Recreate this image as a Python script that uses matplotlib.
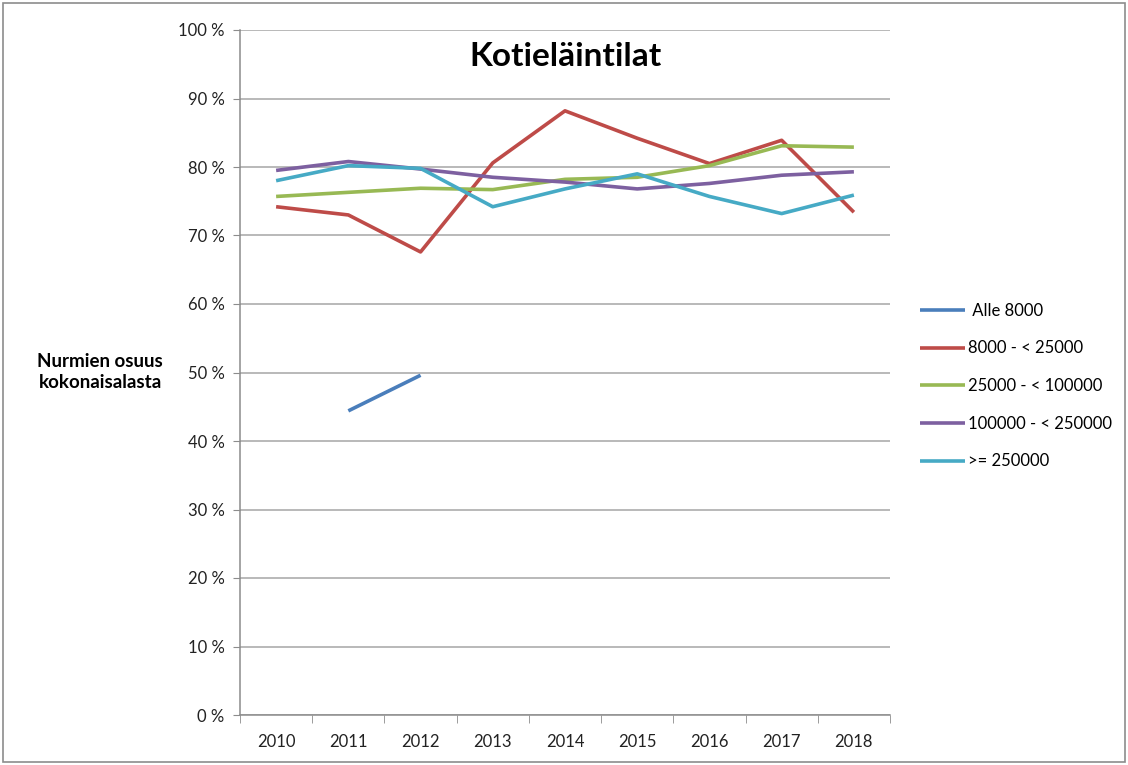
import matplotlib.pyplot as plt
import numpy as np
from matplotlib.patches import Rectangle

plt.rcParams['font.family'] = ['Lato', 'DejaVu Sans']

vuodet = ['2010', '2011', '2012', '2013', '2014', '2015', '2016', '2017', '2018']
sarjat = [' Alle 8000', '8000 - < 25000', '25000 - < 100000', '100000 - < 250000', '>= 250000']

alle_8000 = [np.nan, 44.4, 49.6, np.nan, np.nan, np.nan, np.nan, np.nan, np.nan]
v8000_25000 = [74.2, 73.0, 67.6, 80.6, 88.2, 84.2, 80.5, 83.9, 73.4]
v25000_100000 = [75.7, 76.3, 76.9, 76.7, 78.2, 78.5, 80.2, 83.1, 82.9]
v100000_250000 = [79.5, 80.8, 79.7, 78.5, 77.8, 76.8, 77.6, 78.8, 79.3]
yli_250000 = [78.0, 80.2, 79.8, 74.2, 76.8, 79.0, 75.7, 73.2, 75.9]

varit = ['#4a7ebb', '#be4b48', '#98b954', '#7d60a0', '#46aac5']

fig = plt.figure(figsize=(11.28, 7.65), dpi=100)
ax = fig.add_axes([240 / 1128, 1 - 715 / 765, 650 / 1128, 685 / 765])

# reunus koko kuvan ympärille
fig.patches.append(Rectangle((0.003, 0.004), 0.994, 0.992, transform=fig.transFigure,
                             fill=False, edgecolor='#8c8c8c', linewidth=1.2))

x = np.arange(len(vuodet))
for data, nimi, vari in zip([alle_8000, v8000_25000, v25000_100000, v100000_250000, yli_250000], sarjat, varit):
    ax.plot(x, data, color=vari, linewidth=2.6, label=nimi, solid_capstyle='butt')

ax.set_xlim(-0.5, len(vuodet) - 0.5)
ax.set_ylim(0, 100)
ax.set_yticks(np.arange(0, 101, 10))
ax.set_yticklabels([f'{v} %' for v in range(0, 101, 10)], fontsize=12, color='#222222')
ax.set_xticks(x)
ax.set_xticklabels(vuodet, fontsize=12, color='#222222')
ax.tick_params(axis='x', length=0, pad=14)
ax.set_xticks(np.arange(-0.5, len(vuodet), 1), minor=True)
ax.tick_params(axis='x', which='minor', length=6, color='#8c8c8c')
ax.tick_params(axis='y', length=5, color='#8c8c8c', pad=6)

ax.grid(axis='y', color='#a6a6a6', linewidth=1.1)
ax.set_axisbelow(True)
for s in ['top', 'right']:
    ax.spines[s].set_visible(False)
for s in ['left', 'bottom']:
    ax.spines[s].set_color('#8c8c8c')
    ax.spines[s].set_linewidth(1.1)

ax.set_title('Kotieläintilat', fontsize=24, fontweight='bold', y=0.935)

fig.text(100 / 1128, 1 - 372 / 765, 'Nurmien osuus\nkokonaisalasta', fontsize=13.5,
         fontweight='bold', ha='center', va='center', linespacing=1.25)

fig.legend(loc='center left', bbox_to_anchor=(905 / 1128, 1 - 386 / 765), frameon=False,
           fontsize=12, handlelength=2.7, handletextpad=0.15, labelspacing=1.3)

fig.savefig('out.png', dpi=100)
